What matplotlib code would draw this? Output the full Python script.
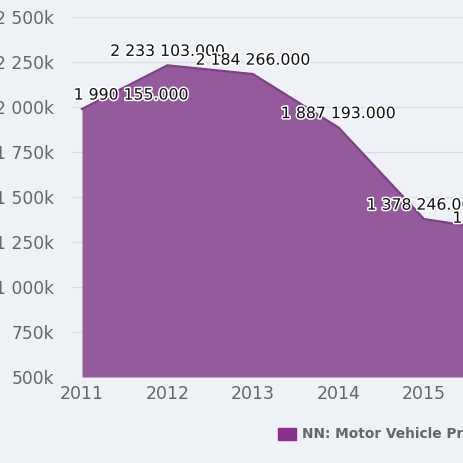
import matplotlib
matplotlib.use("Agg")
import matplotlib.pyplot as plt
import matplotlib.patheffects as pe
from matplotlib.patches import Rectangle
from matplotlib.ticker import FuncFormatter

years = [2011, 2012, 2013, 2014, 2015, 2016]
values = [1990155, 2233103, 2184266, 1887193, 1378246, 1305000]
labels = ["1 990 155.000", "2 233 103.000", "2 184 266.000",
          "1 887 193.000", "1 378 246.000", "1 305 000.000"]
yticks = [500000, 750000, 1000000, 1250000, 1500000, 1750000,
          2000000, 2250000, 2500000]
series_name = "NN: Motor Vehicle Production"

bg = "#eef2f7"
fill_c = "#955a9c"
line_c = "#7e3f88"
txt_c = "#666666"

W, H = 464, 463
fig = plt.figure(figsize=(W / 100, H / 100), dpi=100, facecolor=bg)

# plot area: left edge 72px, bottom 377px, top 17px; runs past the right edge
x_left, x_right = 2011 - 10 / 85.5, 2016.3
width_px = (x_right - x_left) * 85.5
ax = fig.add_axes([72 / W, 1 - 377 / H, width_px / W, (377 - 17.3) / H])
ax.set_facecolor(bg)

ax.fill_between(years, values, 500000, color=fill_c, lw=0, zorder=2)
ax.plot(years, values, color=line_c, lw=1.6, zorder=3)

ax.set_xlim(x_left, x_right)
ax.set_ylim(500000, 2500000)
ax.set_yticks(yticks)
ax.set_xticks(years)
ax.yaxis.set_major_formatter(FuncFormatter(
    lambda v, p: "{:,}k".format(int(v / 1000)).replace(",", " ")))
ax.tick_params(axis="y", length=0, pad=13, labelsize=12.3, labelcolor=txt_c)
ax.tick_params(axis="x", length=0, pad=6, labelsize=12.5, labelcolor=txt_c)
ax.grid(axis="y", color="#d8dde4", lw=0.9, zorder=1)
ax.set_axisbelow(True)
for s in ax.spines.values():
    s.set_visible(False)

halo = [pe.withStroke(linewidth=2.2, foreground="white")]
for i, (x, v, lab) in enumerate(zip(years, values, labels)):
    if i == 0:
        t = ax.annotate(lab, (x, v), xytext=(-6, 10), textcoords="offset points",
                        ha="left", va="center", fontsize=11.3, color="#111111")
    else:
        t = ax.annotate(lab, (x, v), xytext=(0, 10), textcoords="offset points",
                        ha="center", va="center", fontsize=11.3, color="#111111")
    t.set_path_effects(halo)
    t.set_zorder(5)

# legend
fig.patches.append(Rectangle((278 / W, 1 - 440 / H), 18 / W, 12 / H,
                             transform=fig.transFigure, color="#8a2f8c",
                             figure=fig))
fig.text(302 / W, 1 - 434 / H, series_name, ha="left", va="center",
         fontsize=9.9, fontweight="bold", color=txt_c)

fig.savefig("out.png", dpi=100, facecolor=bg)
